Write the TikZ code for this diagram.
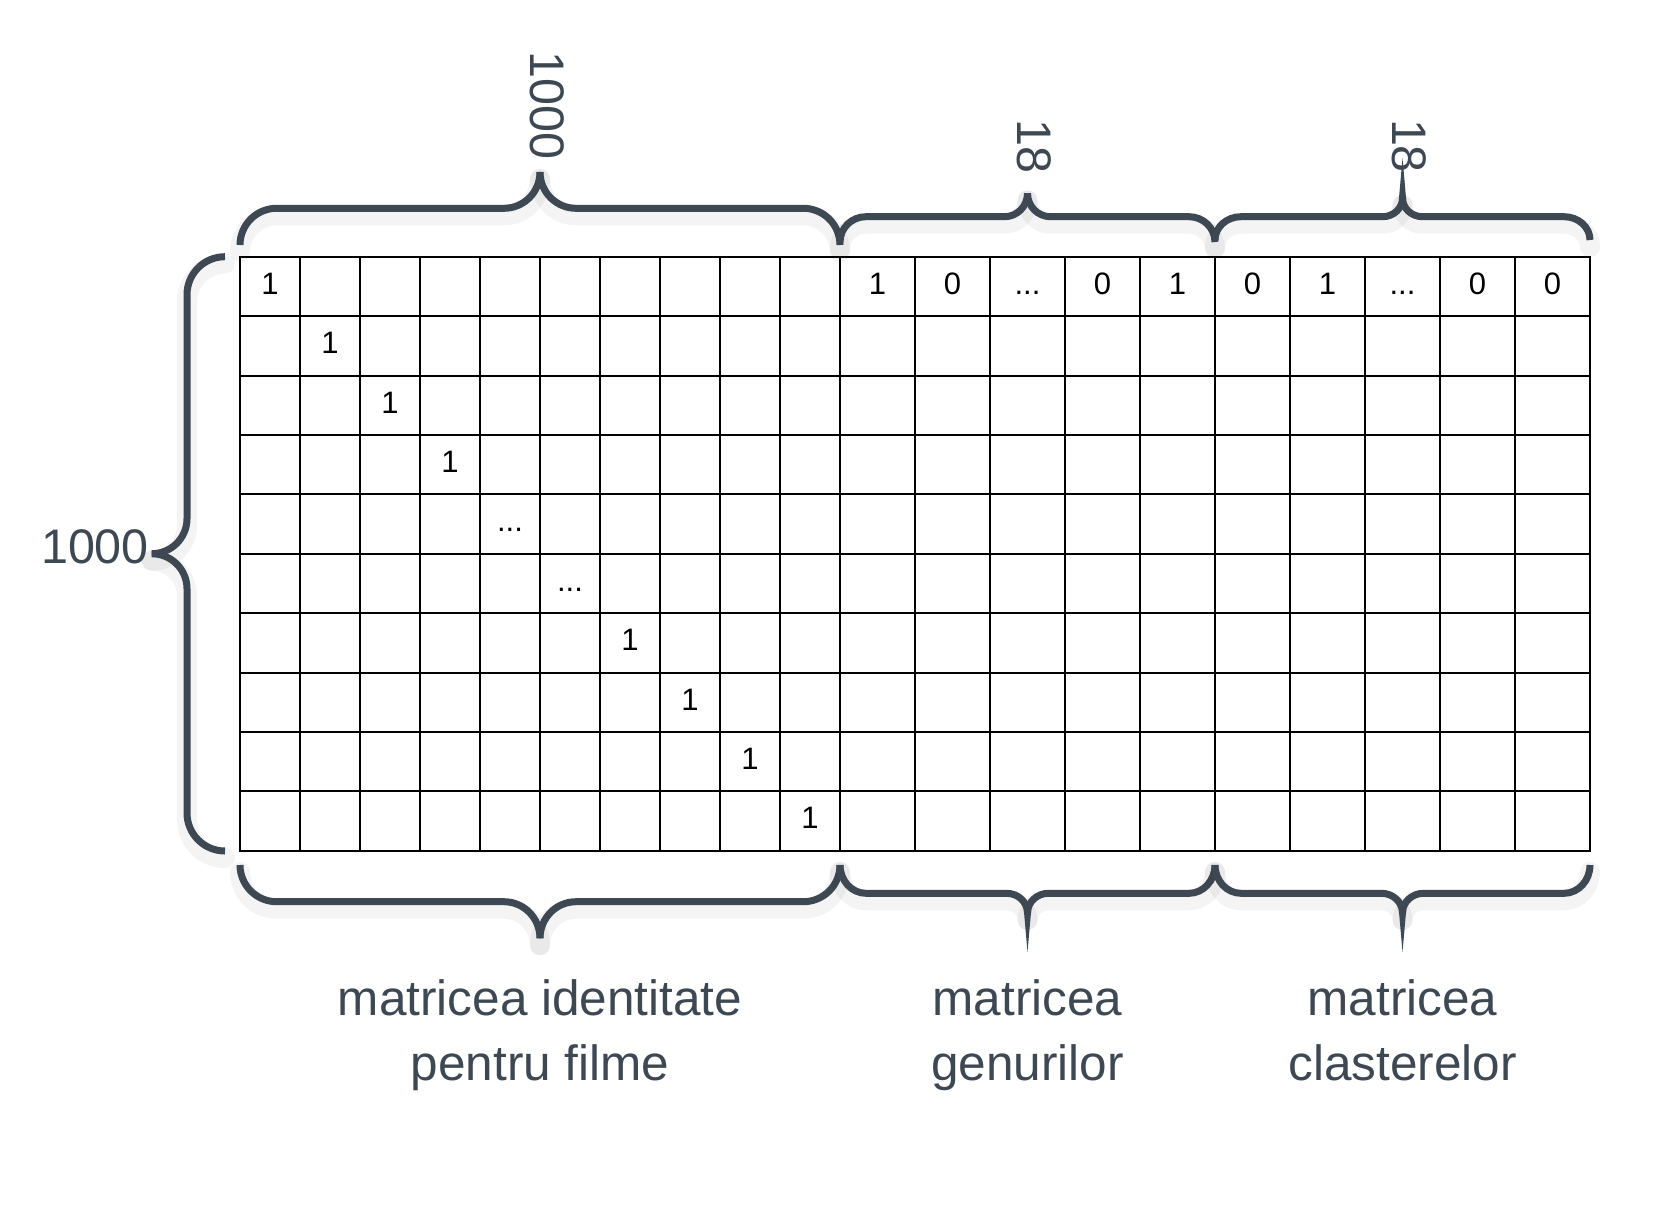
\documentclass[tikz,border=0pt]{standalone}
\usepackage{fontspec}
\setmainfont{Liberation Sans}
\definecolor{slate}{RGB}{62,72,83}
\tikzset{
  bracestroke/.style={draw=slate, line width=7pt, line cap=butt},
  braceshade/.style={draw=black, opacity=0.045, line width=20pt, line cap=round, yshift=-7pt},
  cellnum/.style={font=\fontsize{31}{37}\selectfont, text=black, anchor=base, inner sep=0pt},
  dimlabel/.style={font=\fontsize{48.5}{56}\selectfont, text=slate, inner sep=0pt},
  captionlabel/.style={font=\fontsize{49.5}{65}\selectfont, text=slate, align=center, inner sep=0pt, anchor=base},
  gridline/.style={draw=black, line width=2pt},
  spike/.style={fill=slate, draw=none},
}
% half of a horizontal brace: x_end, y_end, y_h, x_tip, y_tip, corner r, tip r, style
\newcommand{\BraceHalf}[8]{%
  \pgfmathsetmacro\zzS{(#4>#1)?1:-1}%
  \pgfmathsetmacro\zzA{#1+\zzS*#6}%
  \pgfmathsetmacro\zzB{#2+0.552*(#3-#2)}%
  \pgfmathsetmacro\zzC{#1+\zzS*0.448*#6}%
  \pgfmathsetmacro\zzD{#4-\zzS*#7}%
  \pgfmathsetmacro\zzE{#4-\zzS*0.448*#7}%
  \pgfmathsetmacro\zzF{#3+0.448*(#5-#3)}%
  \draw[#8] (#1,#2) .. controls (#1,\zzB) and (\zzC,#3) .. (\zzA,#3) -- (\zzD,#3) .. controls (\zzE,#3) and (#4,\zzF) .. (#4,#5);%
}
% full horizontal brace: x1, x2, y_end, y_h, y_tip, corner r, tip r
\newcommand{\HBrace}[7]{%
  \pgfmathsetmacro\zzM{(#1+#2)/2}%
  \BraceHalf{#1}{#3}{#4}{\zzM}{#5}{#6}{#7}{braceshade}%
  \BraceHalf{#2}{#3}{#4}{\zzM}{#5}{#6}{#7}{braceshade}%
  \BraceHalf{#1}{#3}{#4}{\zzM}{#5}{#6}{#7}{bracestroke}%
  \BraceHalf{#2}{#3}{#4}{\zzM}{#5}{#6}{#7}{bracestroke}%
}
\begin{document}
\begin{tikzpicture}[x=1pt, y=-1pt]
\fill[white] (0,0) rectangle (1667,1217);
\useasboundingbox (0,0) rectangle (1667,1217);

% ---------- braces ----------
% top
\HBrace{240}{840}{245}{208.3}{172}{36.7}{36}
\HBrace{840}{1215}{242}{216.7}{193.3}{26}{23}
\HBrace{1215}{1590}{240}{216.7}{198}{26}{20}
\fill[spike] (1398.8,200) -- (1406.2,200) -- (1402.5,158) -- cycle;
% bottom
\HBrace{240}{840}{865}{901.7}{938.3}{36.7}{36}
\HBrace{840}{1215}{865}{893.3}{913}{26}{21}
\HBrace{1215}{1590}{865}{893.3}{913}{26}{21}
\fill[spike] (1023.8,910) -- (1031.2,910) -- (1027.5,952) -- cycle;
\fill[spike] (1398.8,910) -- (1406.2,910) -- (1402.5,952) -- cycle;
% left
\foreach \st in {braceshade, bracestroke}{
  \draw[\st] (225,256.7) .. controls (204,256.7) and (187,273.7) .. (187,294.7) -- (187,518.7)
      .. controls (187,538) and (171.2,553.7) .. (151.7,553.7);
  \draw[\st] (225,851) .. controls (204,851) and (187,834) .. (187,813) -- (187,588.7)
      .. controls (187,569.4) and (171.2,553.7) .. (151.7,553.7);
}

% ---------- grid ----------
\foreach \i in {0,...,10} \draw[gridline] ({240+60*\i},256.7) -- ({240+60*\i},850.7);
\foreach \j in {1,...,10} \draw[gridline] ({840+75*\j},256.7) -- ({840+75*\j},850.7);
\foreach \k in {0,...,10} \draw[gridline] (239,{256.7+59.4*\k}) -- (1591,{256.7+59.4*\k});

% ---------- cell entries ----------
% identity diagonal
\node[cellnum] (d1) at (270,294.2) {1};
\node[cellnum] (d2) at (330,353.6) {1};
\node[cellnum] (d3) at (390,413.0) {1};
\node[cellnum] (d4) at (450,472.4) {1};
\node[cellnum] (d5) at (510,531.8) {...};
\node[cellnum] (d6) at (570,591.2) {...};
\node[cellnum] (d7) at (630,650.6) {1};
\node[cellnum] (d8) at (690,710.0) {1};
\node[cellnum] (d9) at (750,769.4) {1};
\node[cellnum] (d10) at (810,828.8) {1};
% genre row
\node[cellnum] (g1) at (877.5,294.2) {1};
\node[cellnum] (g2) at (952.5,294.2) {0};
\node[cellnum] (g3) at (1027.5,294.2) {...};
\node[cellnum] (g4) at (1102.5,294.2) {0};
\node[cellnum] (g5) at (1177.5,294.2) {1};
% cluster row
\node[cellnum] (c1) at (1252.5,294.2) {0};
\node[cellnum] (c2) at (1327.5,294.2) {1};
\node[cellnum] (c3) at (1402.5,294.2) {...};
\node[cellnum] (c4) at (1477.5,294.2) {0};
\node[cellnum] (c5) at (1552.5,294.2) {0};

% ---------- dimension labels ----------
\node[dimlabel, rotate=-90] (dimfilm) at (547,105.5) {1000};
\node[dimlabel, rotate=-90] (dimgen) at (1034.5,146.5) {18};
\node[dimlabel, rotate=-90] (dimclu) at (1409,146) {18};
\node[dimlabel] (dimrows) at (95,546.7) {1000};

% ---------- captions ----------
\node[captionlabel] (capfilm) at (540,1080) {matricea identitate\\pentru filme};
\node[captionlabel] (capgen) at (1027.5,1080) {matricea\\genurilor};
\node[captionlabel] (capclu) at (1402.5,1080) {matricea\\clasterelor};
\end{tikzpicture}
\end{document}
